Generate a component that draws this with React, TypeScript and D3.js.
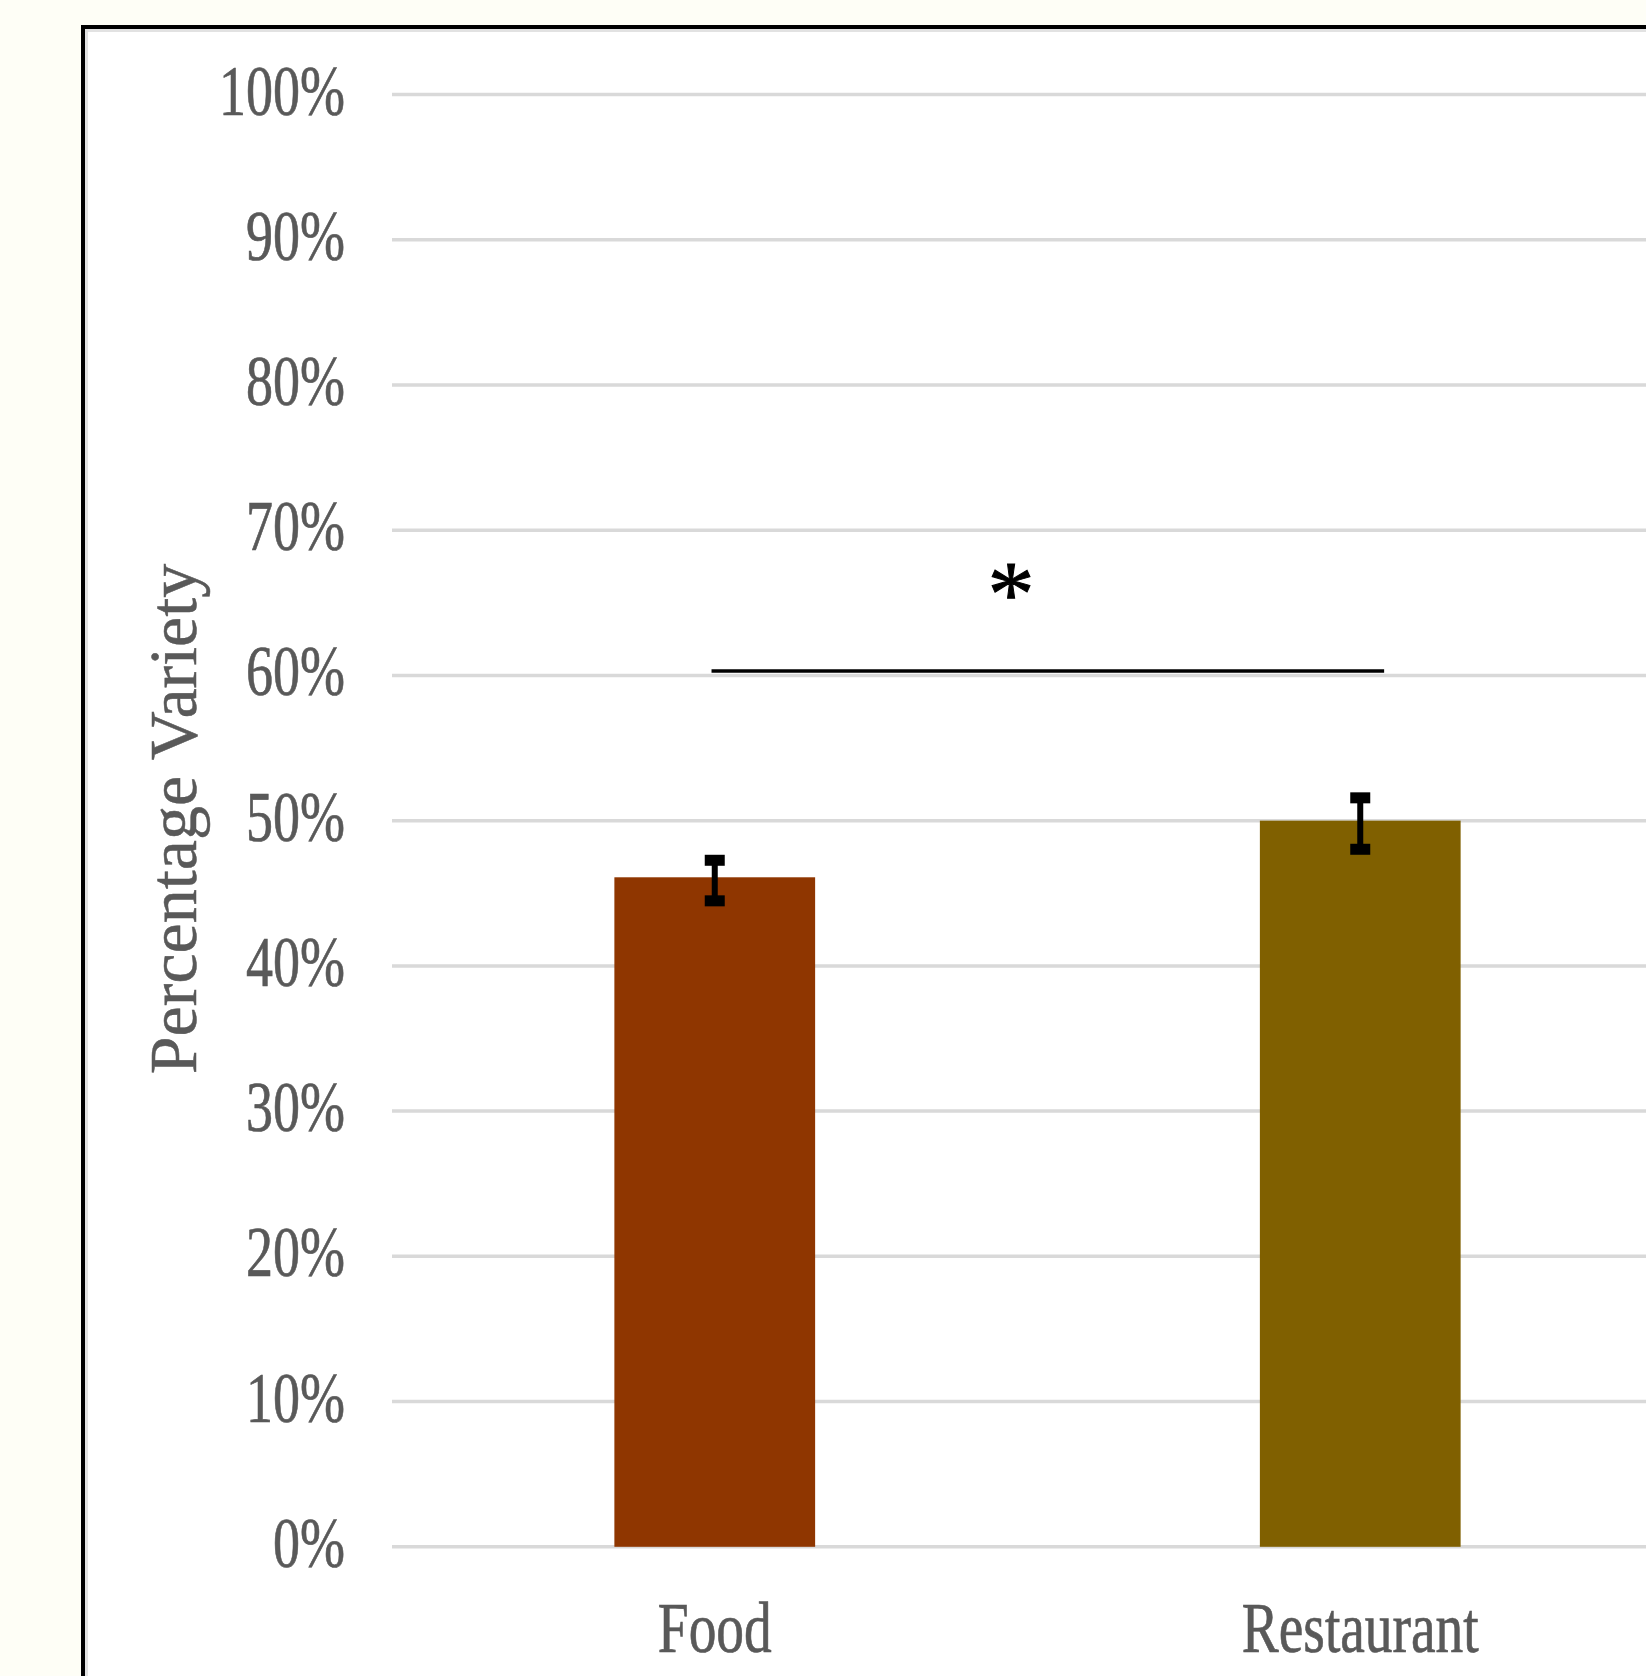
import React from "react";
import * as d3 from "d3";

const categories = ["Food", "Restaurant"];
const values = [46.1, 50.0];
const errLow = [44.1, 47.65];
const errHigh = [47.65, 51.95];
const barColors = ["#8F3600", "#806000"];
const yTicks = [0, 10, 20, 30, 40, 50, 60, 70, 80, 90, 100];
const yTitle = "Percentage Variety";
const sigLine = { from: -0.005, to: 1.037, y: 60.3 };
const sigMark = { text: "*", x: 0.459, y: 63.5 };

const W = 1646;
const H = 1676;

export default function App() {
  const y = d3.scaleLinear().domain([0, 100]).range([1546.8, 94.5]);
  const x = d3
    .scaleBand<string>()
    .domain(categories)
    .range([392, 1683])
    .paddingInner(0.689)
    .paddingOuter(0.3445);
  const cx = (c: string) => (x(c) as number) + x.bandwidth() / 2;
  const xu = d3.scaleLinear().domain([0, 1]).range([cx(categories[0]), cx(categories[1])]);

  const serif = "'Liberation Serif', 'Times New Roman', serif";
  const gray = "#595959";

  return (
    <svg
      width={W}
      height={H}
      style={{ position: "absolute", left: 0, top: 0, display: "block" }}
    >
      <rect x={0} y={0} width={W} height={H} fill="#FEFEF6" />
      <rect x={83} y={27} width={W} height={H} fill="#ffffff" stroke="#000" strokeWidth={4} />
      <line x1={86.5} y1={30.5} x2={86.5} y2={H} stroke="#dcdcdc" strokeWidth={3} opacity={0.8} />
      <line x1={85} y1={30.5} x2={W} y2={30.5} stroke="#dcdcdc" strokeWidth={3} opacity={0.8} />

      {yTicks.map((t) => (
        <g key={t}>
          <line x1={392} x2={W} y1={y(t)} y2={y(t)} stroke="#d9d9d9" strokeWidth={3.5} />
          <g transform={`translate(345,${y(t) + 20}) scale(0.75,1)`}>
            <text
              x={0}
              y={0}
              textAnchor="end"
              fontFamily={serif}
              fontSize={72}
              fill={gray}
              stroke={gray}
              strokeWidth={0.7}
            >
              {t}%
            </text>
          </g>
        </g>
      ))}

      {categories.map((c, i) => (
        <rect
          key={c}
          x={x(c)}
          y={y(values[i])}
          width={x.bandwidth()}
          height={y(0) - y(values[i])}
          fill={barColors[i]}
        />
      ))}

      {categories.map((c, i) => {
        const top = y(errHigh[i]);
        const bot = y(errLow[i]);
        return (
          <g key={c + "err"}>
            <line x1={cx(c)} x2={cx(c)} y1={top + 5} y2={bot - 5} stroke="#000" strokeWidth={6} />
            <rect x={cx(c) - 10} y={top} width={20} height={11} fill="#000" />
            <rect x={cx(c) - 10} y={bot - 11} width={20} height={11} fill="#000" />
          </g>
        );
      })}

      <line
        x1={xu(sigLine.from)}
        x2={xu(sigLine.to)}
        y1={y(sigLine.y)}
        y2={y(sigLine.y)}
        stroke="#000"
        strokeWidth={3.5}
      />
      <text
        x={xu(sigMark.x)}
        y={y(sigMark.y)}
        textAnchor="middle"
        fontFamily={serif}
        fontSize={94}
        fill="#000"
        stroke="#000"
        strokeWidth={1}
      >
        {sigMark.text}
      </text>

      {categories.map((c) => (
        <g key={c + "lbl"} transform={`translate(${cx(c)},1652) scale(0.78,1)`}>
          <text
            x={0}
            y={0}
            textAnchor="middle"
            fontFamily={serif}
            fontSize={71}
            fill={gray}
            stroke={gray}
            strokeWidth={0.7}
          >
            {c}
          </text>
        </g>
      ))}

      <text
        transform={`translate(196,819) rotate(-90)`}
        textAnchor="middle"
        fontFamily={serif}
        fontSize={68}
        fill={gray}
        stroke={gray}
        strokeWidth={0.5}
      >
        {yTitle}
      </text>
    </svg>
  );
}
